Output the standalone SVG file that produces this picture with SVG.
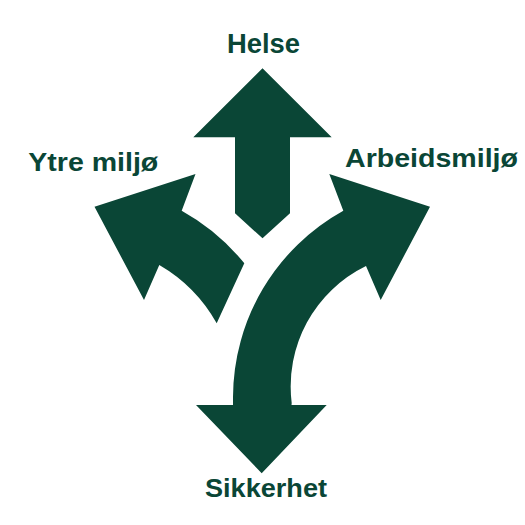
<svg xmlns="http://www.w3.org/2000/svg" width="525" height="525" viewBox="0 0 525 525">
<style>
.shape{fill:#0a4636;stroke:none}
.lbl{font-family:"Liberation Sans",Arial,sans-serif;font-weight:bold;fill:#0a4636}
</style>
<rect width="525" height="525" fill="#ffffff"/>
<g id="connectors">
<g id="arrow-up">
<polygon class="shape" points="262.5,68.3 331.7,137.3 290,137.3 290,213.3 262.5,238.3 235,213.3 235,137.3 193.3,137.3"/>
</g>
<g id="arrow-main">
<path class="shape" d="M261.7,473.3 L326.7,405 L291.5,405 L291.7,403 A134 134 0 0 1 366,266 L380.7,300 L430,206.7 L329.3,174 L343.3,210.7 A214 214 0 0 0 233,397 L233,405 L196,405 Z"/>
</g>
<g id="arrow-left">
<path class="shape" d="M94.5,206.7 L195.5,174 L181.7,210.7 A214 214 0 0 1 244.3,263.3 L216.7,323.3 A155 155 0 0 0 159.3,265 L144,300 Z"/>
</g>
</g>
<g id="node-helse"><text class="lbl" x="227" y="53.3" font-size="27.5" textLength="73" lengthAdjust="spacingAndGlyphs">Helse</text></g>
<g id="node-ytre"><text class="lbl" x="28.3" y="170.7" font-size="25.5" textLength="130" lengthAdjust="spacingAndGlyphs">Ytre miljø</text></g>
<g id="node-arbeid"><text class="lbl" x="345" y="166.7" font-size="25.5" textLength="173" lengthAdjust="spacingAndGlyphs">Arbeidsmiljø</text></g>
<g id="node-sikkerhet"><text class="lbl" x="205" y="496.7" font-size="25.5" textLength="122" lengthAdjust="spacingAndGlyphs">Sikkerhet</text></g>
</svg>
